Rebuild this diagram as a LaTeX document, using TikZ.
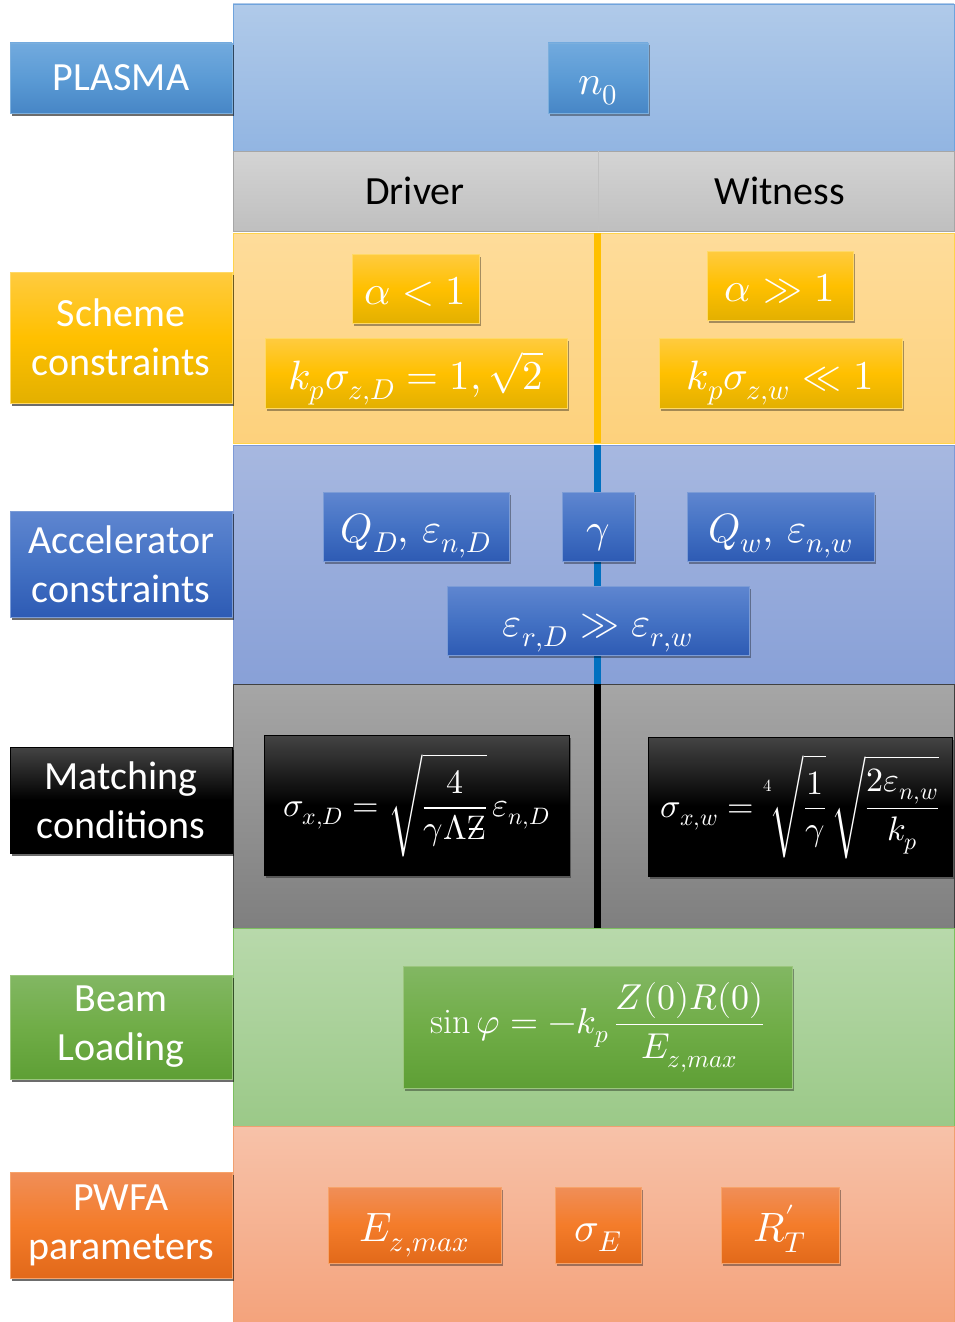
\documentclass[tikz,border=0pt]{standalone}
\usepackage{fontspec}
\usepackage{unicode-math}
\setmainfont{Carlito}
\setmathfont{Latin Modern Math}
\setmathrm{Latin Modern Roman}
\usetikzlibrary{shadows}
\definecolor{plTop}{HTML}{B0CAE9}\definecolor{plBot}{HTML}{92B5E2}\definecolor{plLine}{HTML}{6FA3DC}
\definecolor{hdTop}{HTML}{D4D4D4}\definecolor{hdBot}{HTML}{BFBFBF}\definecolor{hdLine}{HTML}{A6A6A6}
\definecolor{scTop}{HTML}{FEDC9A}\definecolor{scBot}{HTML}{FDD17C}\definecolor{scLine}{HTML}{FFC000}
\definecolor{acTop}{HTML}{A7B8E0}\definecolor{acBot}{HTML}{88A0D7}\definecolor{acLine}{HTML}{7E9AD6}
\definecolor{maTop}{HTML}{A6A6A6}\definecolor{maBot}{HTML}{7F7F7F}\definecolor{maLine}{HTML}{404040}
\definecolor{blTop}{HTML}{B8D9AB}\definecolor{blBot}{HTML}{9BC988}\definecolor{blLine}{HTML}{7DBF60}
\definecolor{pwTop}{HTML}{F7C2A9}\definecolor{pwBot}{HTML}{F4A37C}\definecolor{pwLine}{HTML}{F0A070}
\definecolor{bxBlueT}{HTML}{72AADE}\definecolor{bxBlueM}{HTML}{5B9BD5}\definecolor{bxBlueB}{HTML}{4786C6}
\definecolor{bxGoldT}{HTML}{FFCB40}\definecolor{bxGoldM}{HTML}{FFC000}\definecolor{bxGoldB}{HTML}{E3B000}
\definecolor{bxAccT}{HTML}{5F86D0}\definecolor{bxAccM}{HTML}{4472C4}\definecolor{bxAccB}{HTML}{2E5BB4}
\definecolor{bxBlkT}{HTML}{444444}\definecolor{bxBlkB}{HTML}{000000}
\definecolor{bxGrnT}{HTML}{82B763}\definecolor{bxGrnM}{HTML}{70AD47}\definecolor{bxGrnB}{HTML}{5E9F35}
\definecolor{bxOrT}{HTML}{F08E58}\definecolor{bxOrM}{HTML}{F47C2A}\definecolor{bxOrB}{HTML}{E2691A}
\definecolor{vBlue}{HTML}{0070C0}
\newcommand\lblfont{\fontsize{40}{49}\selectfont}
\newcommand\mathbig{\fontsize{41}{48}\selectfont}
\newcommand\mathmid{\fontsize{34}{40}\selectfont}
\newcommand\mathbl{\fontsize{36}{42}\selectfont}
\newcommand\zstroke{\mbox{\ooalign{$\mathup{Z}$\cr\hidewidth\rule[0.3em]{0.42em}{0.05em}\hidewidth\cr}}}
\newcommand\rootidx{\mbox{\raisebox{0.75em}{\fontsize{17}{17}\selectfont$4$}}}
\tikzset{
  x=1pt,y=-1pt,
  shd/.style={drop shadow={shadow xshift=1.5pt,shadow yshift=-2.5pt,opacity=0.35,fill=black}},
  boxbase/.style={shd,inner sep=0pt,text=white,align=center,line width=0.4pt},
  mb/.style={font=\mathbig,text height=32pt,text depth=0pt},
  lbl/.style={boxbase,font=\lblfont,minimum width=222pt},
  blueb/.style={boxbase,top color=bxBlueT,bottom color=bxBlueB,middle color=bxBlueM,draw=bxBlueM!80!white},
  goldb/.style={boxbase,top color=bxGoldT,bottom color=bxGoldB,middle color=bxGoldM,draw=bxGoldM!60!white},
  accb/.style={boxbase,top color=bxAccT,bottom color=bxAccB,middle color=bxAccM,draw=bxAccM!70!white},
  blkb/.style={boxbase,top color=bxBlkT,bottom color=bxBlkB,middle color=bxBlkB,draw=black},
  grnb/.style={boxbase,top color=bxGrnT,bottom color=bxGrnB,middle color=bxGrnM,draw=bxGrnM!70!white},
  orb/.style={boxbase,top color=bxOrT,bottom color=bxOrB,middle color=bxOrM,draw=bxOrM!70!white},
  vline/.style={line width=7pt},
}
\begin{document}
\begin{tikzpicture}
\useasboundingbox (0,0) rectangle (954,1322);
% bands
\path[top color=plTop,bottom color=plBot,draw=plLine] (233,4) rectangle (954,151);
\path[top color=hdTop,bottom color=hdBot,draw=hdLine] (233,151) rectangle (954,231);
\draw[hdLine!70!white] (598,151) -- (598,231);
\path[top color=scTop,bottom color=scBot,draw=scLine!70!white] (233,233) rectangle (954,443);
\draw[vline,scLine] (597.5,233) -- (597.5,443);
\path[top color=acTop,bottom color=acBot,draw=acLine] (233,445) rectangle (954,684);
\draw[vline,vBlue] (597.5,445) -- (597.5,684);
\path[top color=maTop,bottom color=maBot,draw=maLine] (233,684) rectangle (954,928);
\draw[vline,black] (597.5,684) -- (597.5,928);
\path[top color=blTop,bottom color=blBot,draw=blLine] (233,928) rectangle (954,1126);
\path[top color=pwTop,bottom color=pwBot,draw=pwLine] (233,1126) rectangle (954,1322);
% header texts
\node[font=\lblfont] (driver) at (415,191) {Driver};
\node[font=\lblfont] (witness) at (780,191) {Witness};
% left labels
\node[lbl,blueb,minimum height=70pt] (plasma) at (121,78) {PLASMA};
\node[lbl,goldb,minimum height=131pt] (scheme) at (121,337.5) {Scheme\\constraints};
\node[lbl,accb,minimum height=106pt] (accel) at (121,564) {Accelerator\\constraints};
\node[lbl,blkb,minimum height=106pt] (match) at (121,800) {Matching\\conditions};
\node[lbl,grnb,minimum height=104pt] (beam) at (121,1027) {Beam\\Loading};
\node[lbl,orb,minimum height=106pt] (pwfa) at (121,1225) {PWFA\\parameters};
% plasma
\node[blueb,mb,minimum width=100pt,minimum height=70pt] (n0) at (598,78) {$n_0$};
% scheme
\node[goldb,mb,minimum width=127pt,minimum height=69pt] (alD) at (415.5,288.5) {$\alpha<1$};
\node[goldb,mb,minimum width=302pt,minimum height=70pt] (kD) at (416,373) {$k_p\sigma_{z,D}=1,\sqrt{2}$};
\node[goldb,mb,minimum width=146pt,minimum height=69pt] (alW) at (780,285.5) {$\alpha\gg1$};
\node[goldb,mb,minimum width=243pt,minimum height=70pt] (kW) at (780.5,373) {$k_p\sigma_{z,w}\ll1$};
% accelerator
\node[accb,mb,minimum width=186pt,minimum height=69pt] (QD) at (416,526.5) {$Q_D,\,\varepsilon_{n,D}$};
\node[accb,mb,minimum width=72pt,minimum height=69pt] (gam) at (598,526.5) {$\gamma$};
\node[accb,mb,minimum width=187pt,minimum height=69pt] (QW) at (780.5,526.5) {$Q_w,\,\varepsilon_{n,w}$};
\node[accb,mb,minimum width=302pt,minimum height=69pt] (er) at (598,620.5) {$\varepsilon_{r,D}\gg\varepsilon_{r,w}$};
% matching
\node[blkb,font=\mathmid,minimum width=305pt,minimum height=140pt] (mD) at (416.5,805) {$\displaystyle\sigma_{x,D}=\sqrt{\frac{4}{\gamma\Lambda\zstroke}}\,\varepsilon_{n,D}$};
\node[blkb,font=\mathmid,minimum width=304pt,minimum height=139pt] (mW) at (800,806.5) {$\displaystyle\sigma_{x,w}=\rootidx\mkern-1mu\sqrt{\frac{1}{\gamma}}\,\sqrt{\frac{2\varepsilon_{n,w}}{k_p}}$};
% beam loading
\node[grnb,font=\mathbl,minimum width=389pt,minimum height=122pt] (bl) at (597.5,1027) {$\displaystyle\sin\varphi=-k_p\,\frac{Z(0)R(0)}{E_{z,max}}$};
% pwfa
\node[orb,mb,minimum width=173pt,minimum height=76pt] (Ez) at (414.5,1225) {$E_{z,max}$};
\node[orb,mb,minimum width=86pt,minimum height=76pt] (sE) at (598,1225) {$\sigma_E$};
\node[orb,mb,minimum width=118pt,minimum height=76pt] (RT) at (780,1225) {$R'_T$};
\end{tikzpicture}
\end{document}
